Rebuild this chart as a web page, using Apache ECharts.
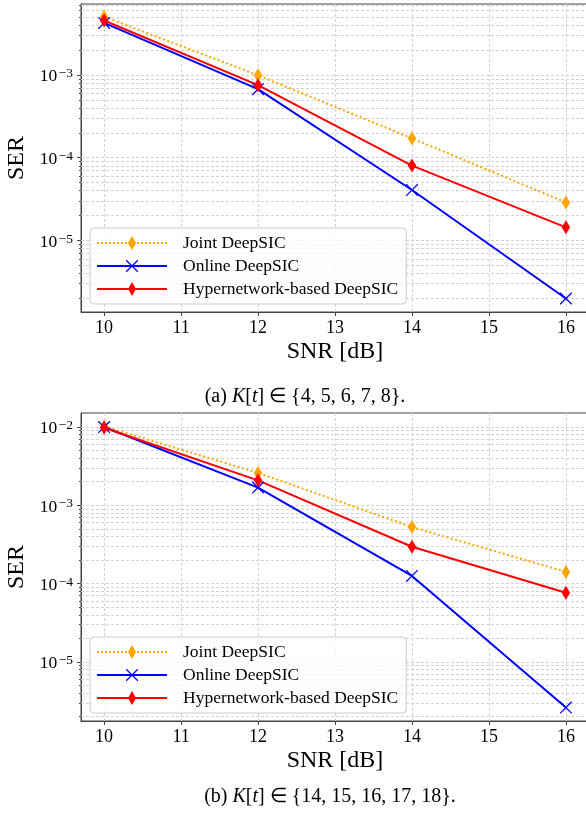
<!DOCTYPE html>
<html><head><meta charset="utf-8">
<script src="https://cdn.jsdelivr.net/npm/echarts@6/dist/echarts.min.js"></script>
<style>html,body{margin:0;padding:0;background:#fff}#c{width:586px;height:821px}</style>
</head><body><div id="c"></div>
<script>
// ---------- data ----------
const snr = [10, 12, 14, 16];
const seriesNames = ['Joint DeepSIC', 'Online DeepSIC', 'Hypernetwork-based DeepSIC'];
// (a) K[t] in {4,...,8}
const jointA  = [5.1e-3, 1.0e-3, 1.73e-4, 2.9e-5];
const onlineA = [4.3e-3, 6.8e-4, 4.1e-5, 2.0e-6];
const hyperA  = [4.6e-3, 7.6e-4, 8.1e-5, 1.45e-5];
// (b) K[t] in {14,...,18}
const jointB  = [1.02e-2, 2.6e-3, 5.3e-4, 1.42e-4];
const onlineB = [1.0e-2, 1.69e-3, 1.26e-4, 2.64e-6];
const hyperB  = [9.8e-3, 2.09e-3, 2.97e-4, 7.7e-5];
// ticks
const xTicks = [10, 11, 12, 13, 14, 15, 16];
const decadesA = [1e-5, 1e-4, 1e-3];
const decadesB = [1e-5, 1e-4, 1e-3, 1e-2];
const minorBases = [1e-6, 1e-5, 1e-4, 1e-3, 1e-2];
const minorMult = [2, 3, 4, 5, 6, 7, 8, 9];
const captionA = '(a) {i|K}[{i|t}] ∈ {4, 5, 6, 7, 8}.';
const captionB = '(b) {i|K}[{i|t}] ∈ {14, 15, 16, 17, 18}.';

// ---------- layout / style ----------
const FONT = '"Liberation Serif", "Times New Roman", serif';
const X_MIN = 9.7, X_MAX = 16.3;
const yRangeA = [Math.pow(10, -5.862), Math.pow(10, -2.138)];
const yRangeB = [Math.pow(10, -5.75), Math.pow(10, -1.821)];
const AXIS_COLOR = '#444';
const GRID_COLOR = '#d2d2d2';
const C_ORANGE = '#FFA500', C_BLUE = '#0000FF', C_RED = '#FF0000';
const crossPath = 'path://M0,0L0.9,0L12,11.1L12,12L11.1,12L0,0.9Z M12,0L12,0.9L0.9,12L0,12L0,11.1L11.1,0Z';

function dotsPath() {
  let p = '';
  for (let x = 0; x <= 68; x += 4) p += 'M' + x + ',6h2v2h-2z ';
  return p;
}
const diamondIcon = 'M35,0L39,7L35,14L31,7Z';
const legendIcons = [
  'path://' + dotsPath() + diamondIcon,
  'path://M0,6.1h70v1.8h-70z M29,1L29.9,1L41,12.1L41,13L40.1,13L29,1.9Z M41,1L41,1.9L29.9,13L29,13L29,12.1L40.1,1Z',
  'path://M0,6.1h70v1.8h-70z ' + diamondIcon
];

function expLabel(v) {
  const e = Math.log10(v);
  const r = Math.round(e);
  if (Math.abs(e - r) > 1e-3) return '';
  return '{b|10}{s|\u2212' + Math.abs(r) + '}';
}

function gridLineSeries(idx, majors, range) {
  const data = [];
  majors.forEach(v => data.push([X_MIN, v, 1]));
  minorBases.forEach(b => minorMult.forEach(m => {
    const v = b * m;
    if (v > range[0] && v < range[1]) data.push([X_MIN, v, 0]);
  }));
  return {
    type: 'custom', name: 'grid' + idx, xAxisIndex: idx, yAxisIndex: idx,
    silent: true, z: 1, clip: false, data: data, encode: {x: 0, y: 1},
    renderItem: function (params, api) {
      const rect = params.coordSys;
      let y = api.coord([api.value(0), api.value(1)])[1];
      y = Math.round(y - 0.5) + 0.5;
      const major = api.value(2) === 1;
      return {
        type: 'group', children: [
          {type: 'line', shape: {x1: rect.x, y1: y, x2: rect.x + rect.width, y2: y},
           style: {stroke: GRID_COLOR, lineWidth: 1, lineDash: [3, 2]}},
          {type: 'line', shape: {x1: rect.x - (major ? 4 : 2), y1: y, x2: rect.x, y2: y},
           style: {stroke: AXIS_COLOR, lineWidth: 1}}
        ]
      };
    }
  };
}

function lineSeries(idx, name, ys, color, symbol, size, dashed) {
  return {
    type: 'line', name: name, xAxisIndex: idx, yAxisIndex: idx, z: 3,
    data: snr.map((x, i) => [x, ys[i]]),
    symbol: symbol, symbolSize: size, showSymbol: true,
    itemStyle: {color: color},
    lineStyle: {color: color, width: 2, type: dashed ? [2, 2.5] : 'solid'},
    emphasis: {disabled: true}
  };
}

function xAxis(idx) {
  return {
    type: 'value', gridIndex: idx, min: X_MIN, max: X_MAX,
    minInterval: 1, maxInterval: 1, splitNumber: 6,
    name: 'SNR [dB]', nameLocation: 'middle', nameGap: 28,
    nameTextStyle: {fontFamily: FONT, fontSize: 24, color: '#000'},
    axisLine: {show: true, lineStyle: {color: AXIS_COLOR, width: 1}},
    axisTick: {show: true, length: 4, customValues: xTicks, lineStyle: {color: AXIS_COLOR}},
    axisLabel: {customValues: xTicks, fontFamily: FONT, fontSize: 18, color: '#000', margin: 7,
      formatter: v => (Math.abs(v - Math.round(v)) < 1e-6 ? String(Math.round(v)) : '')},
    splitLine: {show: true, lineStyle: {color: GRID_COLOR, width: 1, type: [3, 2]}}
  };
}

function yAxis(idx, range, decades) {
  return {
    type: 'log', logBase: 10, gridIndex: idx, min: range[0], max: range[1],
    name: 'SER', nameLocation: 'middle', nameGap: 50,
    nameTextStyle: {fontFamily: FONT, fontSize: 24, color: '#000'},
    axisLine: {show: true, lineStyle: {color: AXIS_COLOR, width: 1}},
    axisTick: {show: false},
    splitLine: {show: false},
    axisLabel: {
      customValues: decades, margin: 8, formatter: expLabel, padding: [3, 0, 0, 0],
      rich: {
        b: {fontFamily: FONT, fontSize: 17.5, color: '#000', lineHeight: 20},
        s: {fontFamily: FONT, fontSize: 13.5, color: '#000', lineHeight: 8, verticalAlign: 'top', padding: [0, 0, 0, 1.5]}
      }
    }
  };
}

function legend(top) {
  return {
    show: true, left: 90, top: top, orient: 'vertical',
    itemWidth: 70, itemHeight: 14, itemGap: 5, padding: [6, 8, 6, 7],
    backgroundColor: 'rgba(255,255,255,0.8)', borderColor: '#cccccc', borderWidth: 1, borderRadius: 4,
    selectedMode: false,
    textStyle: {fontFamily: FONT, fontSize: 17.5, color: '#000', padding: [0, 0, 0, 11]},
    data: seriesNames.map((n, i) => ({name: n, icon: legendIcons[i]}))
  };
}

function caption(text, x, y) {
  return {
    type: 'text', x: x, y: y, silent: true,
    style: {
      text: text, align: 'center', verticalAlign: 'middle',
      font: '20px ' + FONT, fill: '#000',
      rich: {i: {fontStyle: 'italic', fontFamily: FONT, fontSize: 20, fill: '#000'}}
    }
  };
}

const gridBase = {width: 508, height: 308, show: true, borderColor: AXIS_COLOR, borderWidth: 1,
  backgroundColor: 'transparent', containLabel: false, outerBoundsMode: 'none'};

const chart = echarts.init(document.getElementById('c'), null, {renderer: 'canvas'});
chart.setOption({
  animation: false,
  backgroundColor: '#fff',
  grid: [
    Object.assign({left: 81, top: 4}, gridBase),
    Object.assign({left: 81, top: 413}, gridBase)
  ],
  xAxis: [xAxis(0), xAxis(1)],
  yAxis: [yAxis(0, yRangeA, decadesA), yAxis(1, yRangeB, decadesB)],
  legend: [legend(228), legend(637)],
  series: [
    gridLineSeries(0, decadesA, yRangeA),
    gridLineSeries(1, decadesB, yRangeB),
    lineSeries(0, seriesNames[0], jointA, C_ORANGE, 'diamond', [8.5, 14], true),
    lineSeries(0, seriesNames[1], onlineA, C_BLUE, crossPath, 12, false),
    lineSeries(0, seriesNames[2], hyperA, C_RED, 'diamond', [8.5, 14], false),
    lineSeries(1, seriesNames[0], jointB, C_ORANGE, 'diamond', [8.5, 14], true),
    lineSeries(1, seriesNames[1], onlineB, C_BLUE, crossPath, 12, false),
    lineSeries(1, seriesNames[2], hyperB, C_RED, 'diamond', [8.5, 14], false)
  ],
  graphic: [caption(captionA, 305, 397), caption(captionB, 330, 797)]
});
</script>
</body></html>
